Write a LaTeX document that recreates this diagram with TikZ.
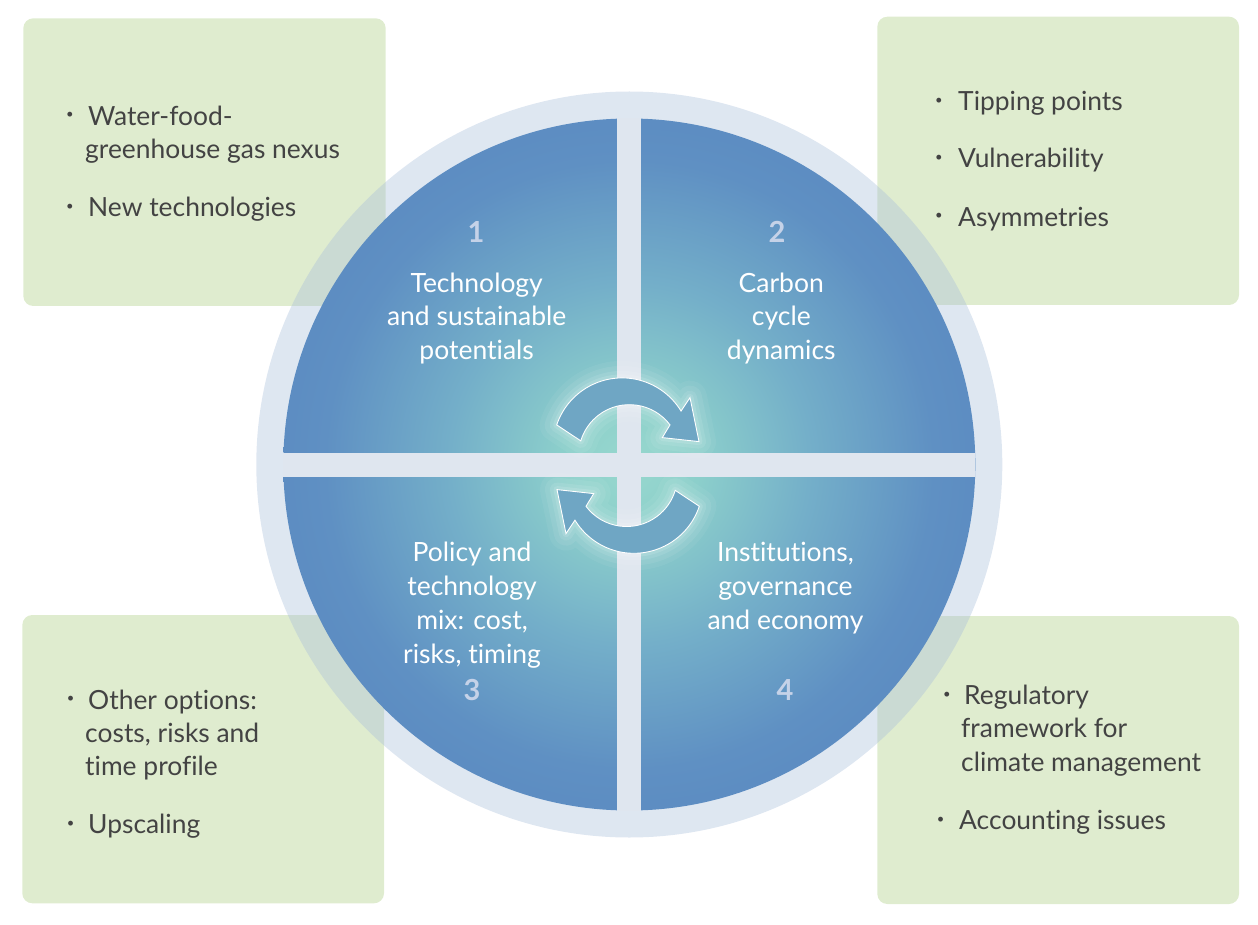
\documentclass[tikz,border=0pt]{standalone}
\usepackage{fontspec}
\setmainfont{Lato}[Ligatures=NoCommon]
\definecolor{boxgreen}{HTML}{DFECCF}
\definecolor{ringblue}{HTML}{A9BFDB}
\definecolor{barcol}{HTML}{DFE6EF}
\definecolor{arrowcol}{HTML}{6FA6C4}
\definecolor{numcol}{HTML}{C5D2E8}
\definecolor{boxtext}{HTML}{434343}
\definecolor{shA}{HTML}{98D8CE}
\definecolor{shB}{HTML}{8CCFCB}
\definecolor{shC}{HTML}{74AFC9}
\definecolor{shD}{HTML}{5F90C3}
\definecolor{shE}{HTML}{5785BF}
\definecolor{shF}{HTML}{5381BD}
\pgfdeclareradialshading{diskshade}{\pgfpoint{0bp}{0bp}}{%
  color(0bp)=(shA); color(5bp)=(shB); color(13bp)=(shC);
  color(22bp)=(shD); color(32bp)=(shE); color(50bp)=(shF)}
\tikzset{
  qtext/.style={text=white, font=\fontsize{26.5}{30}\selectfont, anchor=base, inner sep=0pt},
  numtext/.style={text=numcol, font=\bfseries\fontsize{29}{32}\selectfont, anchor=base, inner sep=0pt},
  btext/.style={text=boxtext, font=\fontsize{26.4}{30}\selectfont, anchor=base west, inner sep=0pt},
  bul/.style={text=boxtext, font=\fontsize{13}{14}\selectfont, anchor=center, inner sep=0pt},
  infobox/.style={fill=boxgreen, rounded corners=10pt},
  arrowbody/.style={fill=arrowcol, draw=white, line width=0.9pt, line join=miter},
  cyclearrow/.pic={
    % soft white halo around the arrow
    \foreach \w/\o in {34/0.05,24/0.07,14/0.09,7/0.12}
      \draw[white, line width=\w pt, draw opacity=\o, line join=round]
        (-71.3,-40.7) arc[start angle=-161.4, end angle=-31.3, radius=69]
        -- (62,-68) -- (71,-24) -- (34.3,-28) -- (42,-40.7)
        arc[start angle=-37, end angle=-163.3, radius=50.8] -- cycle;
    % arrow body
    \draw[arrowbody]
        (-71.3,-40.7) arc[start angle=-161.4, end angle=-31.3, radius=69]
        -- (62,-68) -- (71,-24) -- (34.3,-28) -- (42,-40.7)
        arc[start angle=-37, end angle=-163.3, radius=50.8] -- cycle;
  }
}
\begin{document}
\begin{tikzpicture}[x=1pt, y=-1pt]
\path[use as bounding box] (0,0) rectangle (1258,925);
\coordinate (C) at (629.3,464.5);
\coordinate (A) at (628,465.6);

% green side panels
\fill[infobox] (23.3,18.3) rectangle (385.7,306);
\fill[infobox] (877.3,16.7) rectangle (1239,305);
\fill[infobox] (22.3,615) rectangle (384,903.3);
\fill[infobox] (877.3,616) rectangle (1239,904);

% outer translucent ring and shaded disc
\fill[ringblue, fill opacity=0.38] (C) circle[radius=373];
\shade[shading=diskshade] (C) circle[radius=346];

% cross separating the four quadrants
\fill[barcol] (617.3,118.5) rectangle (641.3,810.5);
\fill[barcol] (283.3,452.5) rectangle (975.3,476.5);

% circular arrows in the middle
\pic (arrowtop) at (A) {cyclearrow};
\pic[rotate=180] (arrowbot) at (A) {cyclearrow};

% quadrant 1
\node[numtext] (n1) at (476,242.7) {1};
\node[qtext] (q1a) at (476.7,292.3) {Technology};
\node[qtext] (q1b) at (476.7,325.7) {and sustainable};
\node[qtext] (q1c) at (476.7,359) {potentials};
% quadrant 2
\node[numtext] (n2) at (777,242.7) {2};
\node[qtext] (q2a) at (781.3,292.3) {Carbon};
\node[qtext] (q2b) at (781.3,325.7) {cycle};
\node[qtext] (q2c) at (781.3,359) {dynamics};
% quadrant 3
\node[qtext] (q3a) at (472,561.3) {Policy and};
\node[qtext] (q3b) at (472,595.3) {technology};
\node[qtext] (q3c) at (472,629.3) {mix: cost,};
\node[qtext] (q3d) at (472,663.3) {risks, timing};
\node[numtext] (n3) at (472,700.7) {3};
% quadrant 4
\node[qtext] (q4a) at (785.5,561.3) {Institutions,};
\node[qtext] (q4b) at (785.5,595.3) {governance};
\node[qtext] (q4c) at (785.5,629.3) {and economy};
\node[numtext] (n4) at (785,700.7) {4};

% top-left panel
\node[bul] (tlb1) at (70,115) {•};
\node[btext] (tl1a) at (88,125.3) {Water-food-};
\node[btext] (tl1b) at (85,159) {greenhouse gas nexus};
\node[bul] (tlb2) at (70,207) {•};
\node[btext] (tl2a) at (88,217) {New technologies};

% top-right panel
\node[bul] (trb1) at (939,101.7) {•};
\node[btext] (tr1a) at (958,111) {Tipping points};
\node[bul] (trb2) at (939,158.3) {•};
\node[btext] (tr2a) at (958,168) {Vulnerability};
\node[bul] (trb3) at (939,216) {•};
\node[btext] (tr3a) at (958,226.7) {Asymmetries};

% bottom-left panel
\node[bul] (blb1) at (70.7,699) {•};
\node[btext] (bl1a) at (88,709) {Other options:};
\node[btext] (bl1b) at (85,742.7) {costs, risks and};
\node[btext] (bl1c) at (85,775.7) {time profile};
\node[bul] (blb2) at (70.7,824) {•};
\node[btext] (bl2a) at (88,833.3) {Upscaling};

% bottom-right panel
\node[bul] (brb1) at (947,695) {•};
\node[btext] (br1a) at (964,704.3) {Regulatory};
\node[btext] (br1b) at (961,737.7) {framework for};
\node[btext] (br1c) at (961,771.7) {climate management};
\node[bul] (brb2) at (940.7,820) {•};
\node[btext] (br2a) at (959,829.3) {Accounting issues};
\end{tikzpicture}
\end{document}
